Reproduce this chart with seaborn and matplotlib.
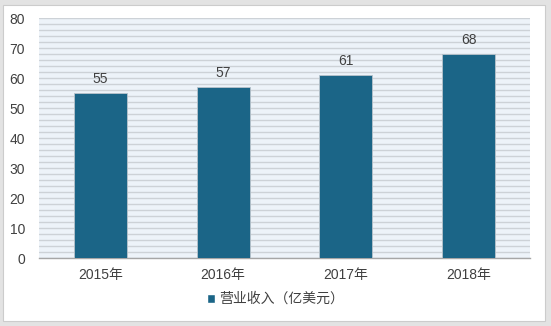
import matplotlib
matplotlib.use("Agg")
import matplotlib.pyplot as plt
import seaborn as sns
import pandas as pd
import numpy as np
from matplotlib.patches import Rectangle

years = ["2015年", "2016年", "2017年", "2018年"]
revenue = [55, 57, 61, 68]
series_name = "营业收入（亿美元）"
yticks = [0, 10, 20, 30, 40, 50, 60, 70, 80]

sns.set_style("white")
plt.rcParams['font.family'] = ['Liberation Sans', 'Noto Sans CJK SC', 'DejaVu Sans']

df = pd.DataFrame({"year": years, "value": revenue})

fig = plt.figure(figsize=(5.51, 3.26), dpi=100)
fig.patch.set_facecolor("white")
# outer frame shadow
fig.patches.append(Rectangle((0.0, 0.0), 1, 1, transform=fig.transFigure,
                             facecolor="#e3e3e3", edgecolor="none", zorder=-3))
fig.patches.append(Rectangle((3/551, 5/326), 542/551, 316/326, transform=fig.transFigure,
                             facecolor="white", edgecolor="#cccccc", lw=0.8, zorder=-2))

ax = fig.add_axes([39/551, 1 - 258/326, 491/551, 240/326])
ax.set_facecolor("#edf3f9")
for yv in np.arange(0, 81, 2):
    ax.axhline(yv, color="#cdd2d7", lw=1.0, zorder=0)

sns.barplot(data=df, x="year", y="value", color="#1b6587", width=0.43,
            saturation=1, ax=ax, zorder=3, edgecolor="#b9c3cb", linewidth=0.6)

for i, v in enumerate(revenue):
    ax.text(i, v + 2.3, str(v), ha="center", va="bottom", fontsize=10,
            color="#404040")

ax.set_ylim(0, 80)
ax.set_xlim(-0.5, 3.5)
ax.set_yticks(yticks)
ax.set_yticklabels([str(t) for t in yticks], fontsize=10, color="#404040")
ax.set_xticks(range(len(years)))
ax.set_xticklabels(years, fontsize=10, color="#404040")
ax.tick_params(axis="y", length=0, pad=10)
ax.tick_params(axis="x", length=0, pad=7)
ax.set_xlabel("")
ax.set_ylabel("")
for s in ["top", "right", "left"]:
    ax.spines[s].set_visible(False)
ax.spines["bottom"].set_color("#a6a6a6")
ax.spines["bottom"].set_linewidth(1.0)

handles = [Rectangle((0, 0), 1, 1, facecolor="#1b6587")]
fig.legend(handles, [series_name], loc="center", bbox_to_anchor=(0.5, 1 - 299/326),
           frameon=False, fontsize=10, handlelength=0.6, handleheight=0.6,
           handletextpad=0.3, labelcolor="#404040")

fig.savefig("out.png", dpi=100)
